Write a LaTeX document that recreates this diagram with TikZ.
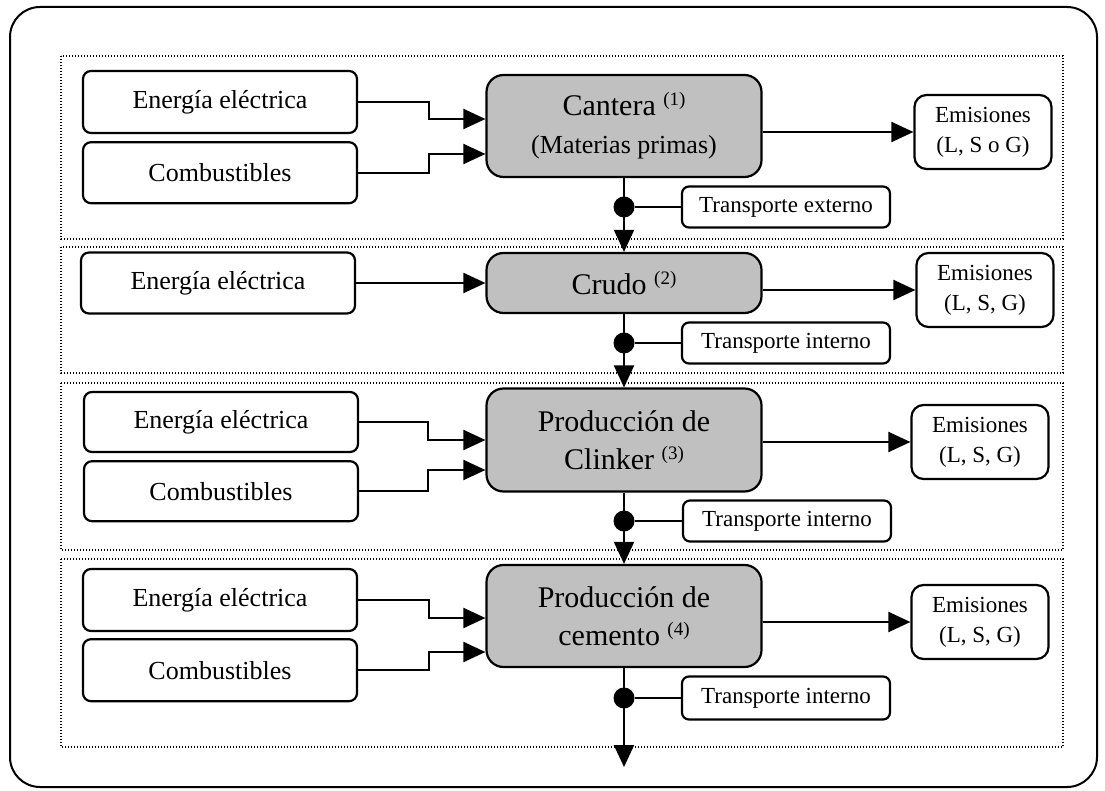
\documentclass[tikz,border=0pt]{standalone}
\usepackage{fontspec}
\setmainfont{Liberation Serif}
\usepackage{xcolor}
\usetikzlibrary{positioning, arrows.meta}

\definecolor{procgray}{RGB}{192,192,192}
\newcommand{\nota}[1]{\raisebox{10pt}{\fontsize{19}{19}\selectfont(#1)}}

\begin{document}
\begin{tikzpicture}[
    x=1pt, y=-1pt,
    stage/.style={
        draw,
        line width=1.2pt,
        dash pattern=on 1.2pt off 1.8pt
    },
    input/.style={
        rectangle,
        rounded corners=8pt,
        draw,
        line width=2.2pt,
        minimum width=274pt,
        minimum height=62pt,
        font=\fontsize{26}{30}\selectfont
    },
    process/.style={
        rectangle,
        rounded corners=17pt,
        draw,
        line width=2.2pt,
        fill=procgray,
        align=center,
        minimum width=275pt,
        minimum height=102pt,
        font=\fontsize{30}{38}\selectfont
    },
    output/.style={
        rectangle,
        rounded corners=12pt,
        draw,
        line width=2.2pt,
        align=center,
        minimum width=137pt,
        minimum height=74pt,
        font=\fontsize{23}{30}\selectfont
    },
    transport/.style={
        rectangle,
        rounded corners=7pt,
        draw,
        line width=2.2pt,
        minimum width=208pt,
        minimum height=41pt,
        font=\fontsize{23}{26}\selectfont
    },
    junction/.style={
        circle,
        fill,
        inner sep=0pt,
        minimum size=21pt
    },
    arrow/.style={
        line width=2pt,
        -{Triangle[length=22pt, width=20pt]}
    },
    link/.style={
        line width=2pt
    }
]
\useasboundingbox (0,0) rectangle (1105,791);

% Outer border and stage frames
\draw[line width=2pt, rounded corners=30pt] (10,7) rectangle (1097,787);
\draw[stage] (61,56) rectangle (1063,239);
\draw[stage] (61,247) rectangle (1063,373);
\draw[stage] (61,383) rectangle (1063,550);
\draw[stage] (61,559) rectangle (1063,747);

% Stage 1: Cantera
\node[input] (ee1) at (220,102) {Energía eléctrica};
\node[input, below=7pt of ee1, minimum height=61pt] (cb1) {Combustibles};
\node[process] (cantera) at (624,126) {Cantera \nota{1}\\{\fontsize{26}{30}\selectfont(Materias primas)}};
\node[output] (em1) at (983,132) {Emisiones\\(L, S o G)};
\node[transport] (tr1) at (786,207) {Transporte externo};

% Stage 2: Crudo
\node[input, minimum height=61pt] (ee2) at (218,283) {Energía eléctrica};
\node[process, minimum height=60pt] (crudo) at (624,283) {Crudo \nota{2}};
\node[output] (em2) at (985,290) {Emisiones\\(L, S, G)};
\node[transport] (tr2) at (786,343) {Transporte interno};

% Stage 3: Clinker
\node[input, minimum height=60pt] (ee3) at (221,422) {Energía eléctrica};
\node[input, below=7pt of ee3, minimum height=60pt] (cb3) {Combustibles};
\node[process, minimum height=103pt] (clinker) at (624,440) {Producción de\\Clinker \nota{3}};
\node[output] (em3) at (980,442) {Emisiones\\(L, S, G)};
\node[transport] (tr3) at (787,521) {Transporte interno};

% Stage 4: Cemento
\node[input] (ee4) at (220,600) {Energía eléctrica};
\node[input, below=6pt of ee4] (cb4) {Combustibles};
\node[process] (cemento) at (624,616) {Producción de\\cemento \nota{4}};
\node[output] (em4) at (980,622) {Emisiones\\(L, S, G)};
\node[transport, minimum height=43pt] (tr4) at (786,698) {Transporte interno};
\coordinate (salida) at (624,767);

% Junctions
\node[junction] (j1) at (cantera.south |- tr1.west) {};
\node[junction] (j2) at (crudo.south |- tr2.west) {};
\node[junction] (j3) at (clinker.south |- tr3.west) {};
\node[junction] (j4) at (cemento.south |- tr4.west) {};

% Arrows
\draw[arrow] (ee1.east) -- ++(71,0) |- ([yshift=7pt]cantera.west);
\draw[arrow] (cb1.east) -- ++(71,0) |- ([yshift=-28pt]cantera.west);
\draw[arrow] (cantera.east |- em1.west) -- (em1.west);
\draw[arrow] (cantera.south) -- (crudo.north);
\draw[link] (j1) -- (tr1.west);

\draw[arrow] (ee2.east) -- (crudo.west);
\draw[arrow] (crudo.east |- em2.west) -- (em2.west);
\draw[arrow] (crudo.south) -- (clinker.north);
\draw[link] (j2) -- (tr2.west);

\draw[arrow] (ee3.east) -- ++(69,0) |- (clinker.west);
\draw[arrow] (cb3.east) -- ++(69,0) |- ([yshift=-30pt]clinker.west);
\draw[arrow] (clinker.east |- em3.west) -- (em3.west);
\draw[arrow] (clinker.south) -- (cemento.north);
\draw[link] (j3) -- (tr3.west);

\draw[arrow] (ee4.east) -- ++(71,0) |- ([yshift=-2pt]cemento.west);
\draw[arrow] (cb4.east) -- ++(71,0) |- ([yshift=-36pt]cemento.west);
\draw[arrow] (cemento.east |- em4.west) -- (em4.west);
\draw[arrow] (cemento.south) -- (salida);
\draw[link] (j4) -- (tr4.west);

\end{tikzpicture}
\end{document}
